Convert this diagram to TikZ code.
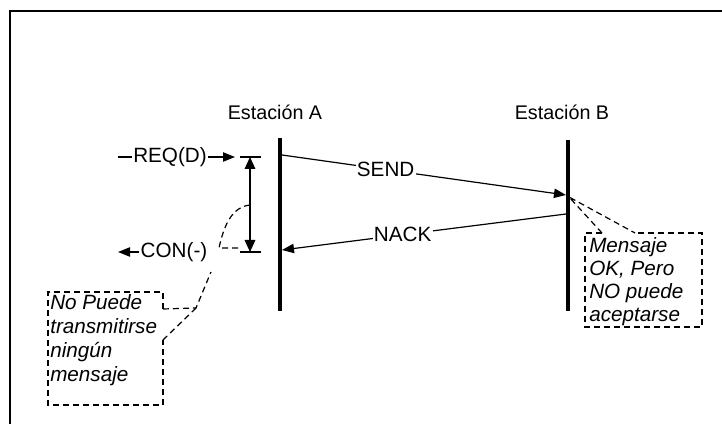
\documentclass[tikz,border=0pt]{standalone}
\usepackage{fontspec}
\setmainfont{Liberation Sans}
\usetikzlibrary{arrows.meta}
\usetikzlibrary{positioning}

\begin{document}
\begin{tikzpicture}[x=0.75pt,y=-0.75pt,
  every node/.style={font=\fontsize{15.5}{18}\selectfont},
  lbl/.style={fill=white,inner sep=1pt},
  station/.style={line width=3pt},
  thinline/.style={line width=0.9pt},
  sig/.style={thinline,-{Triangle[length=9pt,width=7pt]}},
  span/.style={thinline,{Triangle[length=9pt,width=8pt]}-{Triangle[length=9pt,width=8pt]}},
  note/.style={thinline,dash pattern=on 4.5pt off 3pt},
  notetext/.style={anchor=north west,align=left,inner sep=0pt}]
\useasboundingbox (0,0) rectangle (722,424);
\coordinate (fBL) at (10,424);
\coordinate (fTL) at (10,11);
\coordinate (fTR) at (722,11);
\draw[line width=1.1pt] (fBL) -- (fTL) -- (fTR);

\node[font=\fontsize{14.8}{18}\selectfont] (staA) at (275,112) {Estación A};
\node[font=\fontsize{14.8}{18}\selectfont] (staB) at (562,112) {Estación B};
\coordinate (aTop) at (280,138);
\coordinate (aBot) at (280,311);
\coordinate (bTop) at (568,140);
\coordinate (bBot) at (568,311);
\draw[station] (aTop) -- (aBot);
\draw[station] (bTop) -- (bBot);

\coordinate (sendA) at (282,155);
\coordinate (sendB) at (566,195);
\draw[sig] (sendA) -- node[lbl,pos=0.365] (send) {SEND} (sendB);
\coordinate (nackB) at (566,214);
\coordinate (nackA) at (282,250);
\draw[sig] (nackB) -- node[lbl,pos=0.575] (nack) {NACK} (nackA);

\coordinate (reqS) at (118,157);
\node[lbl] (req) at (170,157) {REQ(D)};
\coordinate (reqT) at (235,157);
\draw[sig] (reqS) -- (req) -- (reqT);
\node[lbl] (con) at (174,252) {CON(-)};
\coordinate (conT) at (118,252);
\draw[sig] (con) -- (conT);

\coordinate (t1L) at (240,157);
\coordinate (t1R) at (261,157);
\coordinate (t2L) at (240,252);
\coordinate (t2R) at (261,252);
\draw[thinline] (t1L) -- (t1R);
\draw[thinline] (t2L) -- (t2R);
\coordinate (dTop) at (250,157);
\coordinate (dBot) at (250,252);
\draw[span] (dTop) -- (dBot);

\coordinate (nA1) at (163,309);
\coordinate (nA2) at (163,340);
\coordinate (nAp) at (196,308);
\coordinate (nAq) at (211,272);
\coordinate (nAc) at (250,205);
\coordinate (nAl) at (219,248);
\coordinate (nAr) at (240,248);
\draw[note] (nA1) -- (163,292) -- (48,292) -- (48,405) -- (163,405) -- (nA2);
\draw[note] (nA1) -- (nAp) -- (nAq);
\draw[note] (nA2) -- (nAp);
\draw[note] (nAc) .. controls (232,207) and (224,225) .. (nAl) -- (nAr);
\node[notetext,font=\fontsize{15.5}{18}\selectfont\itshape] (noteA) at (50,294)
  {No Puede\\transmitirse\\ningún\\mensaje};

\coordinate (nB1) at (602,233);
\coordinate (nB2) at (635,233);
\coordinate (nBt) at (569,197);
\draw[note] (nB1) -- (585,233) -- (585,327) -- (702,327) -- (702,233) -- (nB2);
\draw[note] (nB1) -- (nBt) -- (nB2);
\node[notetext,font=\fontsize{15.5}{17.2}\selectfont\itshape] (noteB) at (589,237)
  {Mensaje\\OK, Pero\\NO puede\\aceptarse};
\end{tikzpicture}
\end{document}
